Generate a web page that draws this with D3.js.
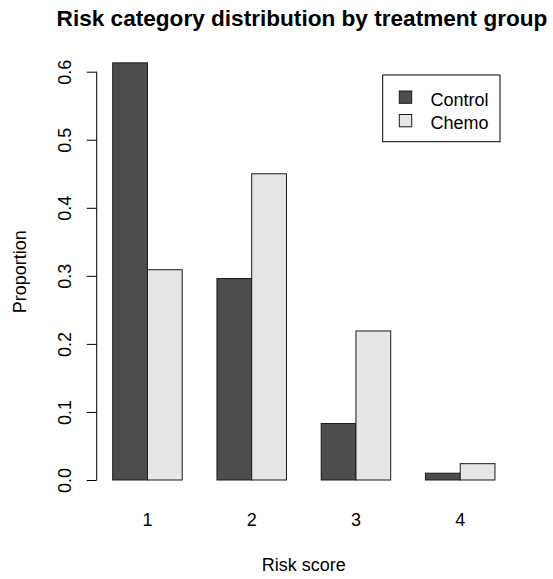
<!DOCTYPE html>
<html>
<head>
<meta charset="utf-8">
<script src="https://cdn.jsdelivr.net/npm/d3@7/dist/d3.min.js"></script>
<style>
  html, body { margin: 0; padding: 0; background: #fff; }
  svg { display: block; font-family: "Liberation Sans", Arial, sans-serif; }
</style>
</head>
<body>
<svg id="chart" width="553" height="579"></svg>
<script>
// Proportion of patients in each risk score, by treatment group
const riskScores = ["1", "2", "3", "4"];
const groups = ["Control", "Chemo"];
const controlValues = [0.613, 0.296, 0.083, 0.010];
const chemoValues = [0.309, 0.450, 0.219, 0.024];
const yTicks = [0.0, 0.1, 0.2, 0.3, 0.4, 0.5, 0.6];
const groupColors = ["#4d4d4d", "#e6e6e6"];

const seriesValues = [controlValues, chemoValues];
const data = riskScores.map((score, i) => ({
  score,
  values: groups.map((g, j) => ({ group: g, value: seriesValues[j][i] }))
}));

const svg = d3.select("#chart");

// Bar layout: one unit per bar, one unit gap before each group
const unit = 34.75;
const firstBarLeft = 112.7;
const x0 = d3.scaleBand()
  .domain(riskScores)
  .range([firstBarLeft - unit, firstBarLeft + 11 * unit + unit])
  .paddingInner(1 / 3)
  .paddingOuter(1 / 3);
const x1 = d3.scaleBand()
  .domain(groups)
  .range([0, x0.bandwidth()])
  .padding(0);
const y = d3.scaleLinear().domain([0, 0.6]).range([480, 71.7]);
const color = d3.scaleOrdinal().domain(groups).range(groupColors);

// Bars
const g = svg.append("g");
g.selectAll("g.group")
  .data(data)
  .join("g")
  .attr("class", "group")
  .attr("transform", d => `translate(${x0(d.score)},0)`)
  .selectAll("rect")
  .data(d => d.values)
  .join("rect")
  .attr("x", d => x1(d.group))
  .attr("width", x1.bandwidth())
  .attr("y", d => y(d.value))
  .attr("height", d => y(0) - y(d.value))
  .attr("fill", d => color(d.group))
  .attr("stroke", "#1a1a1a")
  .attr("stroke-width", 1);

// Y axis
const yAxis = d3.axisLeft(y)
  .tickValues(yTicks)
  .tickFormat(d3.format(".1f"))
  .tickSize(10)
  .tickPadding(0);
const ya = svg.append("g")
  .attr("transform", "translate(96.7,0)")
  .call(yAxis);
ya.select(".domain").attr("d", `M0,${y(0)}V${y(0.6)}`).attr("stroke", "#000");
ya.selectAll(".tick line").attr("stroke", "#000");
ya.selectAll(".tick text")
  .attr("font-size", 18)
  .attr("font-family", "'Liberation Sans', Arial, sans-serif")
  .attr("fill", "#000")
  .attr("text-anchor", "middle")
  .attr("x", null)
  .attr("dy", null)
  .attr("transform", "translate(-25.7,0) rotate(-90)");

// Category labels under each group
svg.append("g")
  .selectAll("text")
  .data(riskScores)
  .join("text")
  .attr("x", d => x0(d) + x0.bandwidth() / 2)
  .attr("y", 526)
  .attr("text-anchor", "middle")
  .attr("font-size", 18)
  .attr("fill", "#000")
  .text(d => d);

// Title and axis titles
svg.append("text")
  .attr("x", 302)
  .attr("y", 26)
  .attr("text-anchor", "middle")
  .attr("font-size", 22.6)
  .attr("font-weight", "bold")
  .attr("fill", "#000")
  .text("Risk category distribution by treatment group");

svg.append("text")
  .attr("x", 303.8)
  .attr("y", 570.5)
  .attr("text-anchor", "middle")
  .attr("font-size", 18)
  .attr("fill", "#000")
  .text("Risk score");

svg.append("text")
  .attr("transform", "translate(26,271.8) rotate(-90)")
  .attr("text-anchor", "middle")
  .attr("font-size", 18)
  .attr("fill", "#000")
  .text("Proportion");

// Legend
const legend = svg.append("g");
legend.append("rect")
  .attr("x", 382.7).attr("y", 75)
  .attr("width", 117.3).attr("height", 66.7)
  .attr("fill", "#fff").attr("stroke", "#000");
const items = legend.selectAll("g.item")
  .data(groups)
  .join("g")
  .attr("class", "item")
  .attr("transform", (d, i) => `translate(0,${i * 23.5})`);
items.append("rect")
  .attr("x", 399.3).attr("y", 91)
  .attr("width", 12.4).attr("height", 12.3)
  .attr("fill", d => color(d))
  .attr("stroke", "#1a1a1a");
items.append("text")
  .attr("x", 430.5).attr("y", 105.5)
  .attr("font-size", 18)
  .attr("fill", "#000")
  .text(d => d);
</script>
</body>
</html>
